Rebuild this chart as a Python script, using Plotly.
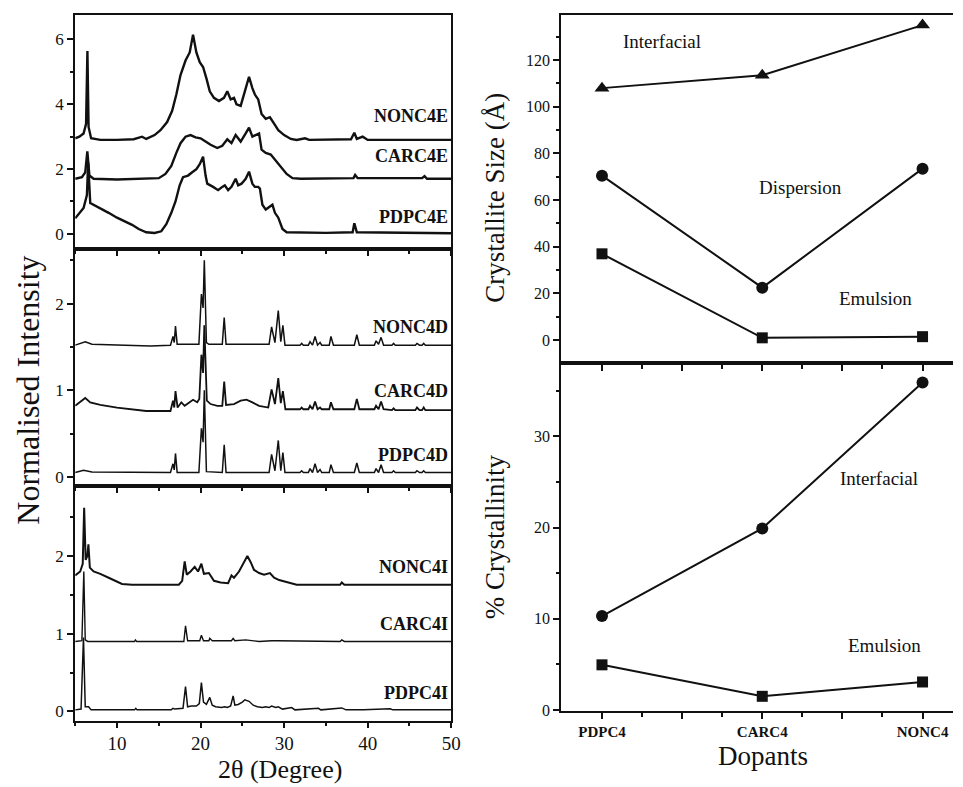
import plotly.graph_objects as go

W, H = 963, 787

# ---------------- XRD data ----------------
# Top panel: emulsion (E)
nonc4e_x = [5.0, 5.5, 6.0, 6.3, 6.46, 6.6, 6.9, 8, 10, 12, 13, 13.5, 14.5, 15.2, 16.0, 16.6, 17.1, 17.6, 18.2, 18.7,
            19.1, 19.5, 19.9, 20.3, 20.7, 21.1, 21.6, 22.2, 22.8, 23.2, 23.6, 24.0, 24.3, 24.8, 25.3, 25.8, 26.2,
            26.5, 26.9, 27.3, 27.8, 28.3, 28.8, 29.3, 30.0, 30.8, 31.5, 32.5, 33, 38.0, 38.4, 38.7, 39.4, 40, 50]
nonc4e_y = [2.95, 3.0, 3.1, 3.4, 5.64, 3.3, 2.95, 2.9, 2.9, 2.92, 3.0, 2.93, 3.05, 3.2, 3.45, 3.8, 4.3, 4.9, 5.35, 5.6,
            6.15, 5.6, 5.3, 5.15, 4.8, 4.4, 4.2, 4.1, 4.2, 4.4, 4.15, 4.2, 4.0, 3.95, 4.4, 4.85, 4.5,
            4.3, 4.15, 3.7, 3.55, 3.6, 3.4, 3.2, 3.05, 2.93, 2.9, 2.95, 2.9, 2.92, 3.12, 2.93, 3.0, 2.9, 2.9]

carc4e_x = [5.0, 5.8, 6.2, 6.45, 6.7, 7.2, 10, 13, 15, 15.8, 16.5, 17.1, 17.6, 18.2, 18.8, 19.4, 20.0, 20.6, 21.2,
            22.0, 22.6, 23.2, 23.7, 24.2, 24.8, 25.4, 25.8, 26.2, 26.6, 27.0, 27.3, 27.8, 28.4, 29.0, 29.6, 30.3,
            31.0, 32, 38.3, 38.5, 38.8, 46.5, 46.8, 47.1, 50]
carc4e_y = [1.7, 1.75, 1.9, 2.55, 1.8, 1.7, 1.68, 1.7, 1.72, 1.85, 2.1, 2.5, 2.8, 3.0, 3.05, 2.98, 2.95, 2.85, 2.75,
            2.65, 2.72, 2.92, 2.8, 3.05, 2.85, 3.1, 3.28, 3.0, 3.05, 3.1, 2.6, 2.5, 2.45, 2.25, 2.05, 1.85,
            1.72, 1.7, 1.72, 1.82, 1.72, 1.72, 1.78, 1.7, 1.7]

pdpc4e_x = [5.0, 5.5, 6.0, 6.4, 6.55, 6.8, 7.2, 8.0, 9.0, 10.0, 11.0, 11.8, 12.6, 13.5, 14.5, 15.3, 15.9, 16.5, 17.0,
            17.5, 17.9, 18.5, 19.0, 19.5, 19.9, 20.3, 20.6, 20.8, 21.5, 22.1, 22.6, 22.9, 23.3, 23.7, 24.2, 24.5,
            24.9, 25.4, 25.8, 26.2, 26.5, 26.9, 27.1, 27.4, 27.8, 28.3, 28.6, 28.9, 29.3, 29.8, 30.3, 35, 38.2,
            38.4, 38.7, 50]
pdpc4e_y = [0.48, 0.65, 0.8, 1.2, 2.2, 0.95, 0.9, 0.8, 0.65, 0.5, 0.38, 0.28, 0.15, 0.05, 0.03, 0.08, 0.3, 0.65, 1.0,
            1.5, 1.75, 1.8, 1.9, 2.0, 2.15, 2.38, 1.8, 1.55, 1.45, 1.35, 1.45, 1.5, 1.35, 1.45, 1.7, 1.5,
            1.55, 1.7, 1.92, 1.55, 1.45, 1.45, 1.4, 0.9, 0.75, 0.85, 0.9, 0.65, 0.5, 0.15, 0.05, 0.03, 0.05,
            0.33, 0.05, 0.02]

# Middle panel: dispersion (D)
nonc4d_x = [5, 5.6, 6.2, 7.0, 10, 14, 16.4, 16.7, 16.85, 17.0, 17.2, 19.8, 20.1, 20.3, 20.45, 20.7, 21, 22.6, 22.83,
            23.05, 28.2, 28.5, 28.9, 29.3, 29.6, 29.85, 30.1, 31.9, 32.1, 32.3, 32.9, 33.1, 33.4, 33.7, 34.0, 34.3,
            34.5, 35.4, 35.6, 35.9, 38.4, 38.7, 39.0, 40.8, 41.0, 41.3, 41.6, 41.9, 42.9, 43.1, 43.3, 45.7, 45.9,
            46.2, 46.5, 46.7, 46.9, 50]
nonc4d_y = [1.52, 1.54, 1.56, 1.53, 1.52, 1.51, 1.52, 1.62, 1.55, 1.74, 1.53, 1.53, 2.11, 1.95, 2.5, 1.55, 1.53, 1.53, 1.84,
            1.53, 1.53, 1.73, 1.55, 1.92, 1.56, 1.75, 1.52, 1.52, 1.54, 1.52, 1.52, 1.56, 1.52, 1.62, 1.52, 1.55,
            1.52, 1.52, 1.62, 1.52, 1.52, 1.64, 1.52, 1.52, 1.57, 1.53, 1.61, 1.52, 1.52, 1.54, 1.52, 1.52, 1.54,
            1.52, 1.52, 1.54, 1.52, 1.52]

carc4d_x = [5, 5.6, 6.2, 6.8, 8, 10, 12, 13.5, 16.4, 16.7, 16.85, 17.0, 17.25, 17.7, 18.1, 18.6, 19.1, 19.6, 19.85,
            20.1, 20.3, 20.45, 20.75, 21.2, 22.0, 22.6, 22.83, 23.05, 24.0, 24.8, 25.5, 26.2, 27.0, 28.1, 28.5,
            28.9, 29.3, 29.6, 29.85, 30.15, 31.9, 32.1, 32.3, 32.9, 33.1, 33.4, 33.7, 34.0, 34.3, 34.5, 35.4, 35.6,
            35.9, 38.4, 38.7, 39.0, 40.8, 41.0, 41.3, 41.6, 41.9, 42.9, 43.1, 43.3, 45.7, 45.9, 46.2, 46.5, 46.7,
            46.9, 50]
carc4d_y = [0.82, 0.86, 0.91, 0.86, 0.83, 0.8, 0.78, 0.76, 0.76, 0.88, 0.8, 0.99, 0.8, 0.86, 0.82, 0.86, 0.89, 0.86, 0.9,
            1.41, 1.2, 1.75, 0.88, 0.84, 0.82, 0.82, 1.1, 0.83, 0.84, 0.88, 0.89, 0.86, 0.82, 0.8, 1.01,
            0.84, 1.14, 0.85, 0.99, 0.78, 0.78, 0.8, 0.78, 0.78, 0.82, 0.78, 0.87, 0.78, 0.8, 0.78, 0.78, 0.86,
            0.78, 0.78, 0.9, 0.78, 0.78, 0.82, 0.78, 0.87, 0.78, 0.77, 0.79, 0.77, 0.77, 0.8, 0.77, 0.77, 0.8,
            0.77, 0.77]

pdpc4d_x = [5, 6.0, 7.0, 16.4, 16.7, 16.85, 17.0, 17.2, 19.8, 20.1, 20.3, 20.45, 20.7, 22.6, 22.83, 23.05, 28.2, 28.5,
            28.9, 29.3, 29.6, 29.85, 30.1, 31.9, 32.1, 32.3, 32.9, 33.1, 33.4, 33.7, 34.0, 34.3, 34.5, 35.4, 35.6,
            35.9, 38.4, 38.7, 39.0, 40.8, 41.0, 41.3, 41.6, 41.9, 42.9, 43.1, 43.3, 45.7, 45.9, 46.2, 46.5, 46.7,
            46.9, 50]
pdpc4d_y = [0.05, 0.075, 0.055, 0.05, 0.15, 0.08, 0.27, 0.05, 0.05, 0.56, 0.4, 1.0, 0.06, 0.05, 0.37, 0.05, 0.05, 0.26,
            0.07, 0.42, 0.07, 0.28, 0.05, 0.05, 0.07, 0.05, 0.05, 0.095, 0.05, 0.15, 0.05, 0.085, 0.05, 0.05, 0.14,
            0.05, 0.05, 0.16, 0.05, 0.05, 0.095, 0.05, 0.14, 0.05, 0.05, 0.07, 0.05, 0.05, 0.07, 0.05, 0.05, 0.07,
            0.05, 0.05]

# Bottom panel: interfacial (I)
nonc4i_x = [5, 5.6, 5.9, 6.07, 6.25, 6.45, 6.58, 6.75, 7.2, 8, 9, 10, 10.6, 11.8, 17.4, 17.8, 18.1, 18.35, 18.8, 19.3,
            19.7, 20.1, 20.4, 21.0, 21.3, 21.6, 22.4, 23.3, 23.7, 24.0, 24.6, 25.1, 25.6, 26.0, 26.4, 27.0, 27.6,
            28.3, 28.8, 29.4, 30.3, 31.5, 36.7, 36.9, 37.2, 50]
nonc4i_y = [1.75, 1.8, 1.9, 2.62, 1.95, 2.0, 2.15, 1.85, 1.8, 1.77, 1.72, 1.67, 1.64, 1.63, 1.63, 1.68, 1.93, 1.76, 1.8,
            1.86, 1.8, 1.9, 1.77, 1.78, 1.72, 1.68, 1.66, 1.65, 1.75, 1.72, 1.8, 1.9, 2.0, 1.92, 1.82, 1.78, 1.76,
            1.78, 1.72, 1.69, 1.66, 1.63, 1.63, 1.66, 1.63, 1.63]

carc4i_x = [5, 5.8, 6.03, 6.2, 6.5, 12.1, 12.2, 12.35, 18.0, 18.2, 18.45, 19.9, 20.1, 20.35, 21.0, 21.1, 21.4, 23.7,
            23.9, 24.1, 25.4, 27, 28.5, 29.1, 36.7, 36.9, 37.2, 50]
carc4i_y = [0.9, 0.91, 1.8, 0.92, 0.9, 0.9, 0.92, 0.9, 0.9, 1.1, 0.91, 0.91, 0.98, 0.91, 0.91, 0.94, 0.91, 0.91,
            0.94, 0.91, 0.92, 0.9, 0.91, 0.91, 0.9, 0.92, 0.9, 0.9]

pdpc4i_x = [5, 5.7, 5.99, 6.2, 6.6, 6.9, 12.1, 12.25, 12.4, 16.5, 16.7, 16.9, 17.9, 18.2, 18.45, 18.9, 19.5, 19.85,
            20.1, 20.35, 20.7, 21.1, 21.4, 21.8, 22.5, 22.9, 23.2, 23.6, 23.9, 24.1, 24.5, 25.0, 25.3, 25.8, 26.3,
            26.8, 27.4, 27.8, 28.2, 28.5, 29.0, 29.3, 29.8, 30.9, 31.3, 34.1, 34.4, 36.9, 37.4, 39.5, 42.7, 43, 50]
pdpc4i_y = [0.02, 0.03, 0.95, 0.06, 0.06, 0.02, 0.02, 0.04, 0.02, 0.02, 0.04, 0.03, 0.04, 0.32, 0.06, 0.07, 0.07, 0.1,
            0.37, 0.12, 0.09, 0.18, 0.08, 0.06, 0.05, 0.06, 0.05, 0.07, 0.2, 0.08, 0.09, 0.12, 0.15, 0.13, 0.08,
            0.06, 0.05, 0.06, 0.05, 0.07, 0.05, 0.06, 0.03, 0.05, 0.02, 0.04, 0.02, 0.045, 0.02, 0.02, 0.035, 0.02, 0.02]

# ---------------- Right panels ----------------
dopants = ["PDPC4", "CARC4", "NONC4"]
size_interfacial = [108, 113.5, 135]
size_dispersion = [70.5, 22.5, 73.5]
size_emulsion = [37, 1, 1.5]
cryst_interfacial = [10.3, 19.9, 35.9]
cryst_emulsion = [4.95, 1.5, 3.07]

xrd_labels = ["NONC4E", "CARC4E", "PDPC4E", "NONC4D", "CARC4D", "PDPC4D", "NONC4I", "CARC4I", "PDPC4I"]

SERIF = "Liberation Serif"
BLACK = "#111111"

fig = go.Figure()

def px2x(p):
    return p / W

def py2y(p):
    return 1 - p / H

xrd = [
    (nonc4e_x, nonc4e_y, "x", "y", 2.4), (carc4e_x, carc4e_y, "x", "y", 2.4), (pdpc4e_x, pdpc4e_y, "x", "y", 2.4),
    (nonc4d_x, nonc4d_y, "x2", "y2", 1.5), (carc4d_x, carc4d_y, "x2", "y2", 1.8), (pdpc4d_x, pdpc4d_y, "x2", "y2", 1.5),
    (nonc4i_x, nonc4i_y, "x3", "y3", 2.0), (carc4i_x, carc4i_y, "x3", "y3", 1.4), (pdpc4i_x, pdpc4i_y, "x3", "y3", 1.5),
]
for (xs, ys, xa, ya, lw), name in zip(xrd, xrd_labels):
    fig.add_trace(go.Scatter(x=xs, y=ys, xaxis=xa, yaxis=ya, mode="lines", name=name,
                             line=dict(color=BLACK, width=lw), showlegend=False))

cat_x = list(range(len(dopants)))

def add_series(vals, symbol, msize, xa, ya):
    fig.add_trace(go.Scatter(x=cat_x, y=vals, xaxis=xa, yaxis=ya, mode="lines+markers",
                             line=dict(color=BLACK, width=2),
                             marker=dict(symbol=symbol, size=msize, color=BLACK),
                             showlegend=False, cliponaxis=False))

add_series(size_interfacial, "triangle-up", 13, "x4", "y4")
add_series(size_dispersion, "circle", 12, "x4", "y4")
add_series(size_emulsion, "square", 11, "x4", "y4")
add_series(cryst_interfacial, "circle", 12, "x5", "y5")
add_series(cryst_emulsion, "square", 11, "x5", "y5")

left_dom = [px2x(76), px2x(456)]
right_dom = [px2x(567), 1.0]

def xaxis_left(anchor, labels):
    return dict(domain=left_dom, anchor=anchor, range=[5, 50], showline=True, linecolor=BLACK, linewidth=2,
                mirror=True, ticks="outside", ticklen=5, tickwidth=1.5, tickcolor=BLACK, dtick=10, tick0=0,
                showticklabels=labels, showgrid=False, zeroline=False,
                tickfont=dict(family=SERIF, size=19, color=BLACK),
                minor=dict(dtick=5, tick0=0, ticks="outside", ticklen=3, tickcolor=BLACK))

def yaxis_gen(dom, rng, dtick, mdtick, anchor, mirror=True, fs=17):
    return dict(domain=dom, anchor=anchor, range=rng, showline=True, linecolor=BLACK, linewidth=2,
                mirror=mirror, ticks="outside", ticklen=6, tickwidth=1.5, tickcolor=BLACK, dtick=dtick, tick0=0,
                showgrid=False, zeroline=False, tickfont=dict(family=SERIF, size=fs, color=BLACK),
                minor=dict(dtick=mdtick, tick0=0, ticks="outside", ticklen=3, tickcolor=BLACK))

def xaxis_right(anchor, labels):
    return dict(domain=right_dom, anchor=anchor, range=[-0.255, 2.19], showline=True, linecolor=BLACK,
                linewidth=2, mirror=True, ticks="outside", ticklen=6, tickwidth=1.5, tickcolor=BLACK,
                tickmode="array", tickvals=[0, 0.5, 1, 1.5, 2],
                ticktext=(["<b>PDPC4</b>", "", "<b>CARC4</b>", "", "<b>NONC4</b>"] if labels else [""] * 5),
                showgrid=False, zeroline=False, tickfont=dict(family=SERIF, size=15, color=BLACK),
                minor=dict(tickmode="array", tickvals=[0.25, 0.75, 1.25, 1.75], ticks="outside", ticklen=4,
                           tickcolor=BLACK))

fig.update_layout(
    width=W, height=H, margin=dict(l=0, r=0, t=0, b=0),
    paper_bgcolor="white", plot_bgcolor="white", showlegend=False,
    xaxis=xaxis_left("y", False),
    xaxis2=xaxis_left("y2", False),
    xaxis3=xaxis_left("y3", True),
    yaxis=yaxis_gen([py2y(252), py2y(15)], [-0.48, 6.76], 2, 1, "x"),
    yaxis2=yaxis_gen([py2y(491), py2y(252)], [-0.106, 2.625], 1, 0.5, "x2"),
    yaxis3=yaxis_gen([py2y(728), py2y(491)], [-0.118, 2.9], 1, 0.5, "x3"),
    xaxis4=xaxis_right("y4", False),
    xaxis5=xaxis_right("y5", True),
    yaxis4=yaxis_gen([py2y(367), py2y(15)], [-9.9, 139.4], 20, 10, "x4", mirror=False, fs=16),
    yaxis5=yaxis_gen([py2y(718.3), py2y(367)], [-0.11, 38], 10, 5, "x5", mirror=False, fs=16),
)

annots = []

def txt(text, px, py, size, bold=False, xanchor="center", angle=0):
    annots.append(dict(text=("<b>%s</b>" % text) if bold else text, x=px2x(px), y=py2y(py), xref="paper",
                       yref="paper", showarrow=False, xanchor=xanchor, yanchor="middle", textangle=angle,
                       font=dict(family=SERIF, size=size, color=BLACK)))

label_py = [117.5, 158, 219, 330, 395, 460, 573, 630, 700]
for lab, py in zip(xrd_labels, label_py):
    txt(lab, 455, py, 18, bold=True, xanchor="right")

txt("Interfacial", 669, 42, 19)
txt("Dispersion", 809, 189, 19)
txt("Emulsion", 885, 302, 19)
txt("Interfacial", 888, 483, 19)
txt("Emulsion", 894, 652, 19)

txt("Normalised Intensity", 28, 394, 32, angle=-90)
txt("2θ (Degree)", 283, 777, 26)
txt("Crystallite Size (Å)", 500, 200, 27, angle=-90)
txt("% Crystallinity", 501, 542, 27, angle=-90)
txt("Dopants", 771, 764, 27)

fig.update_layout(annotations=annots)
fig.write_html("out.html", config={"displayModeBar": False},
               post_script="document.body.style.margin='0px';document.body.style.overflow='hidden';")
